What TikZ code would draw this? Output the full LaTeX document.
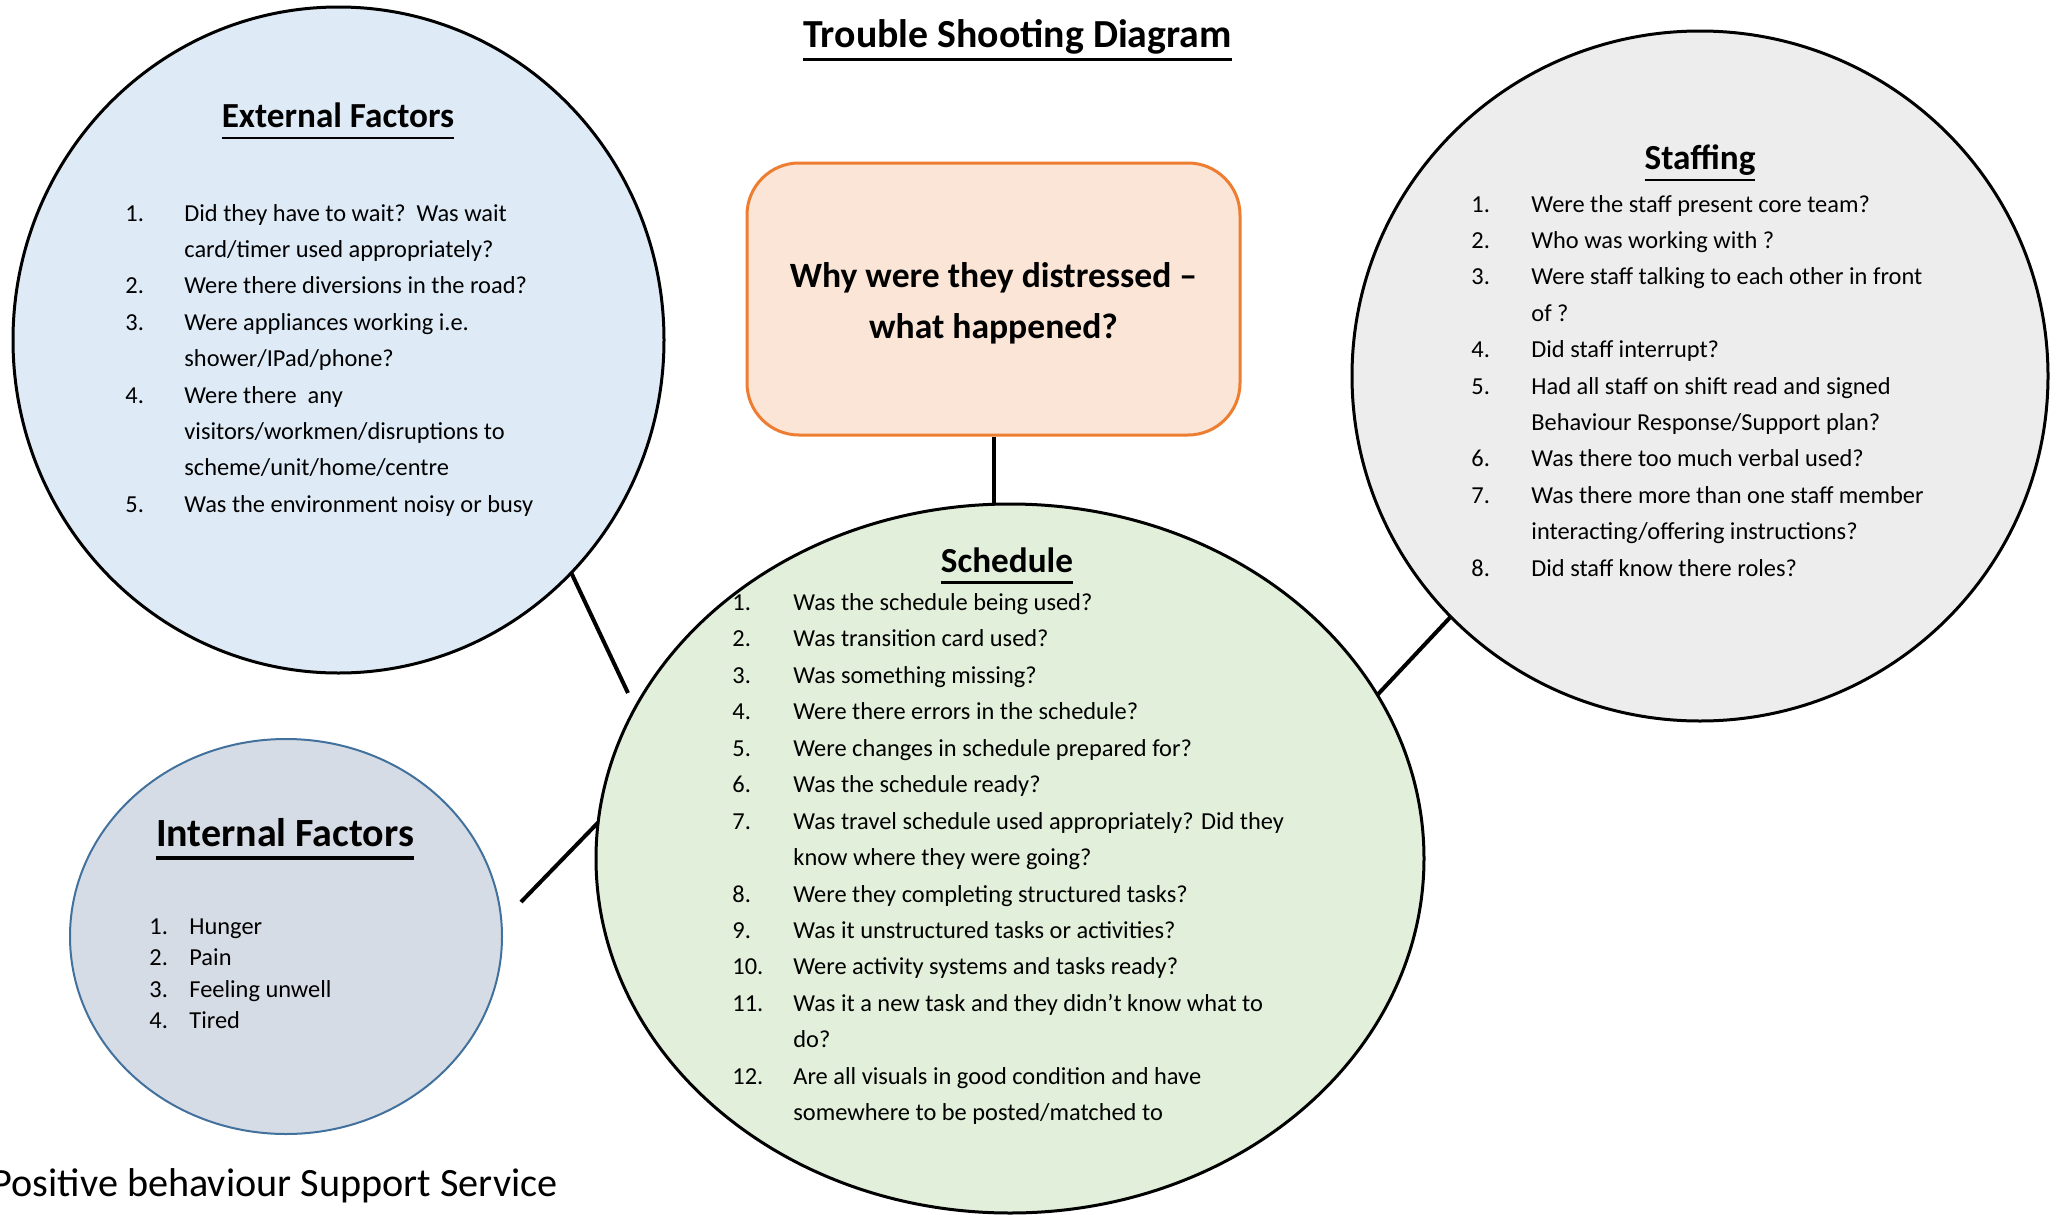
\documentclass[tikz,border=0pt]{standalone}
\usepackage{fontspec}
\setmainfont{Carlito}
\usepackage{array}
\usetikzlibrary{shapes.geometric}
\definecolor{extfill}{HTML}{DEEBF7}
\definecolor{intfill}{HTML}{D6DCE5}
\definecolor{intdraw}{HTML}{41719C}
\definecolor{stafill}{HTML}{EDEDED}
\definecolor{schfill}{HTML}{E2EFDA}
\definecolor{boxfill}{HTML}{FBE5D6}
\definecolor{boxdraw}{HTML}{ED7D31}
\newcommand{\myul}[1]{\leavevmode\setbox0=\hbox{#1}\rlap{\rule[-0.34em]{\wd0}{0.08em}}\box0}
\begin{document}
\begin{tikzpicture}[x=0.5pt,y=-0.5pt,
  circ/.style={ellipse, inner sep=0pt, outer sep=0pt, line width=1.5pt, draw=black},
  conn/.style={line width=2pt},
  lst/.style={anchor=base west, inner sep=0pt, font=\fontsize{12.2}{18.2}\selectfont},
  hd/.style={anchor=base, inner sep=0pt, font=\fontsize{17.6}{21}\selectfont\bfseries}]
\fill[white] (0,0) rectangle (2062,1215);
\useasboundingbox (0,0) rectangle (2062,1215);

\node[circ, fill=extfill, minimum width=325.5pt, minimum height=333pt] (ext) at (338.5,340) {};
\node[circ, fill=intfill, draw=intdraw, line width=1pt, minimum width=216pt, minimum height=197.5pt] (int) at (286,936.5) {};
\node[circ, fill=stafill, minimum width=348pt, minimum height=345pt] (staff) at (1700,376) {};
\node[circ, fill=schfill, minimum width=414pt, minimum height=354.5pt] (sched) at (1010,858.5) {};
\node[draw=boxdraw, fill=boxfill, line width=1.5pt, rounded corners=26pt, minimum width=246.5pt, minimum height=136pt, inner sep=0pt] (box) at (993.5,299) {};
\node[align=center, font=\fontsize{17.8}{25.75}\selectfont\bfseries, inner sep=0pt] (boxt) at (993.5,303.5) {Why were they distressed –\\what happened?};

\coordinate (extend) at (628,693);
\coordinate (intend) at (521,902);
\draw[conn] (box.south) -- (box.south |- sched.north);
\draw[conn] (ext.-45.7) -- (extend);
\draw[conn] (intend) -- (sched.175.6);
\draw[conn] (staff.224.5) -- (sched.24);

\node[hd, font=\fontsize{19.9}{23}\selectfont\bfseries] (title) at (1017.5,47.5) {\myul{Trouble Shooting Diagram}};
\node[hd] (exth) at (338,127.5) {\myul{External Factors}};
\node[hd] (stah) at (1700,169.5) {\myul{Staffing}};
\node[hd] (schh) at (1007,572) {\myul{Schedule}};
\node[hd, font=\fontsize{20}{23}\selectfont\bfseries] (inth) at (285,846) {\myul{Internal Factors}};

\node[lst] (extl) at (125,221) {\begin{tabular}[t]{@{}p{29.5pt}@{}l@{}}
1. & Did they have to wait?\ \ Was wait\\
 & card/timer used appropriately?\\
2. & Were there diversions in the road?\\
3. & Were appliances working i.e.\\
 & shower/IPad/phone?\\
4. & Were there\ \ any\\
 & visitors/workmen/disruptions to\\
 & scheme/unit/home/centre\\
5. & Was the environment noisy or busy
\end{tabular}};

\node[lst] (stal) at (1471,212) {\begin{tabular}[t]{@{}p{30pt}@{}l@{}}
1. & Were the staff present core team?\\
2. & Who was working with ?\\
3. & Were staff talking to each other in front\\
 & of ?\\
4. & Did staff interrupt?\\
5. & Had all staff on shift read and signed\\
 & Behaviour Response/Support plan?\\
6. & Was there too much verbal used?\\
7. & Was there more than one staff member\\
 & interacting/offering instructions?\\
8. & Did staff know there roles?
\end{tabular}};

\node[lst, font=\fontsize{12.2}{18.22}\selectfont] (schl) at (732,610.5) {\begin{tabular}[t]{@{}p{30.5pt}@{}l@{}}
1. & Was the schedule being used?\\
2. & Was transition card used?\\
3. & Was something missing?\\
4. & Were there errors in the schedule?\\
5. & Were changes in schedule prepared for?\\
6. & Was the schedule ready?\\
7. & Was travel schedule used appropriately? Did they\\
 & know where they were going?\\
8. & Were they completing structured tasks?\\
9. & Was it unstructured tasks or activities?\\
10. & Were activity systems and tasks ready?\\
11. & Was it a new task and they didn’t know what to\\
 & do?\\
12. & Are all visuals in good condition and have\\
 & somewhere to be posted/matched to
\end{tabular}};

\node[lst, font=\fontsize{12.2}{15.8}\selectfont] (intl) at (149,934) {\begin{tabular}[t]{@{}p{20pt}@{}l@{}}
1. & Hunger\\
2. & Pain\\
3. & Feeling unwell\\
4. & Tired
\end{tabular}};

\node[anchor=base east, inner sep=0pt, font=\fontsize{20.1}{24}\selectfont] (foot) at (558,1196) {Positive behaviour Support Service};
\end{tikzpicture}
\end{document}
